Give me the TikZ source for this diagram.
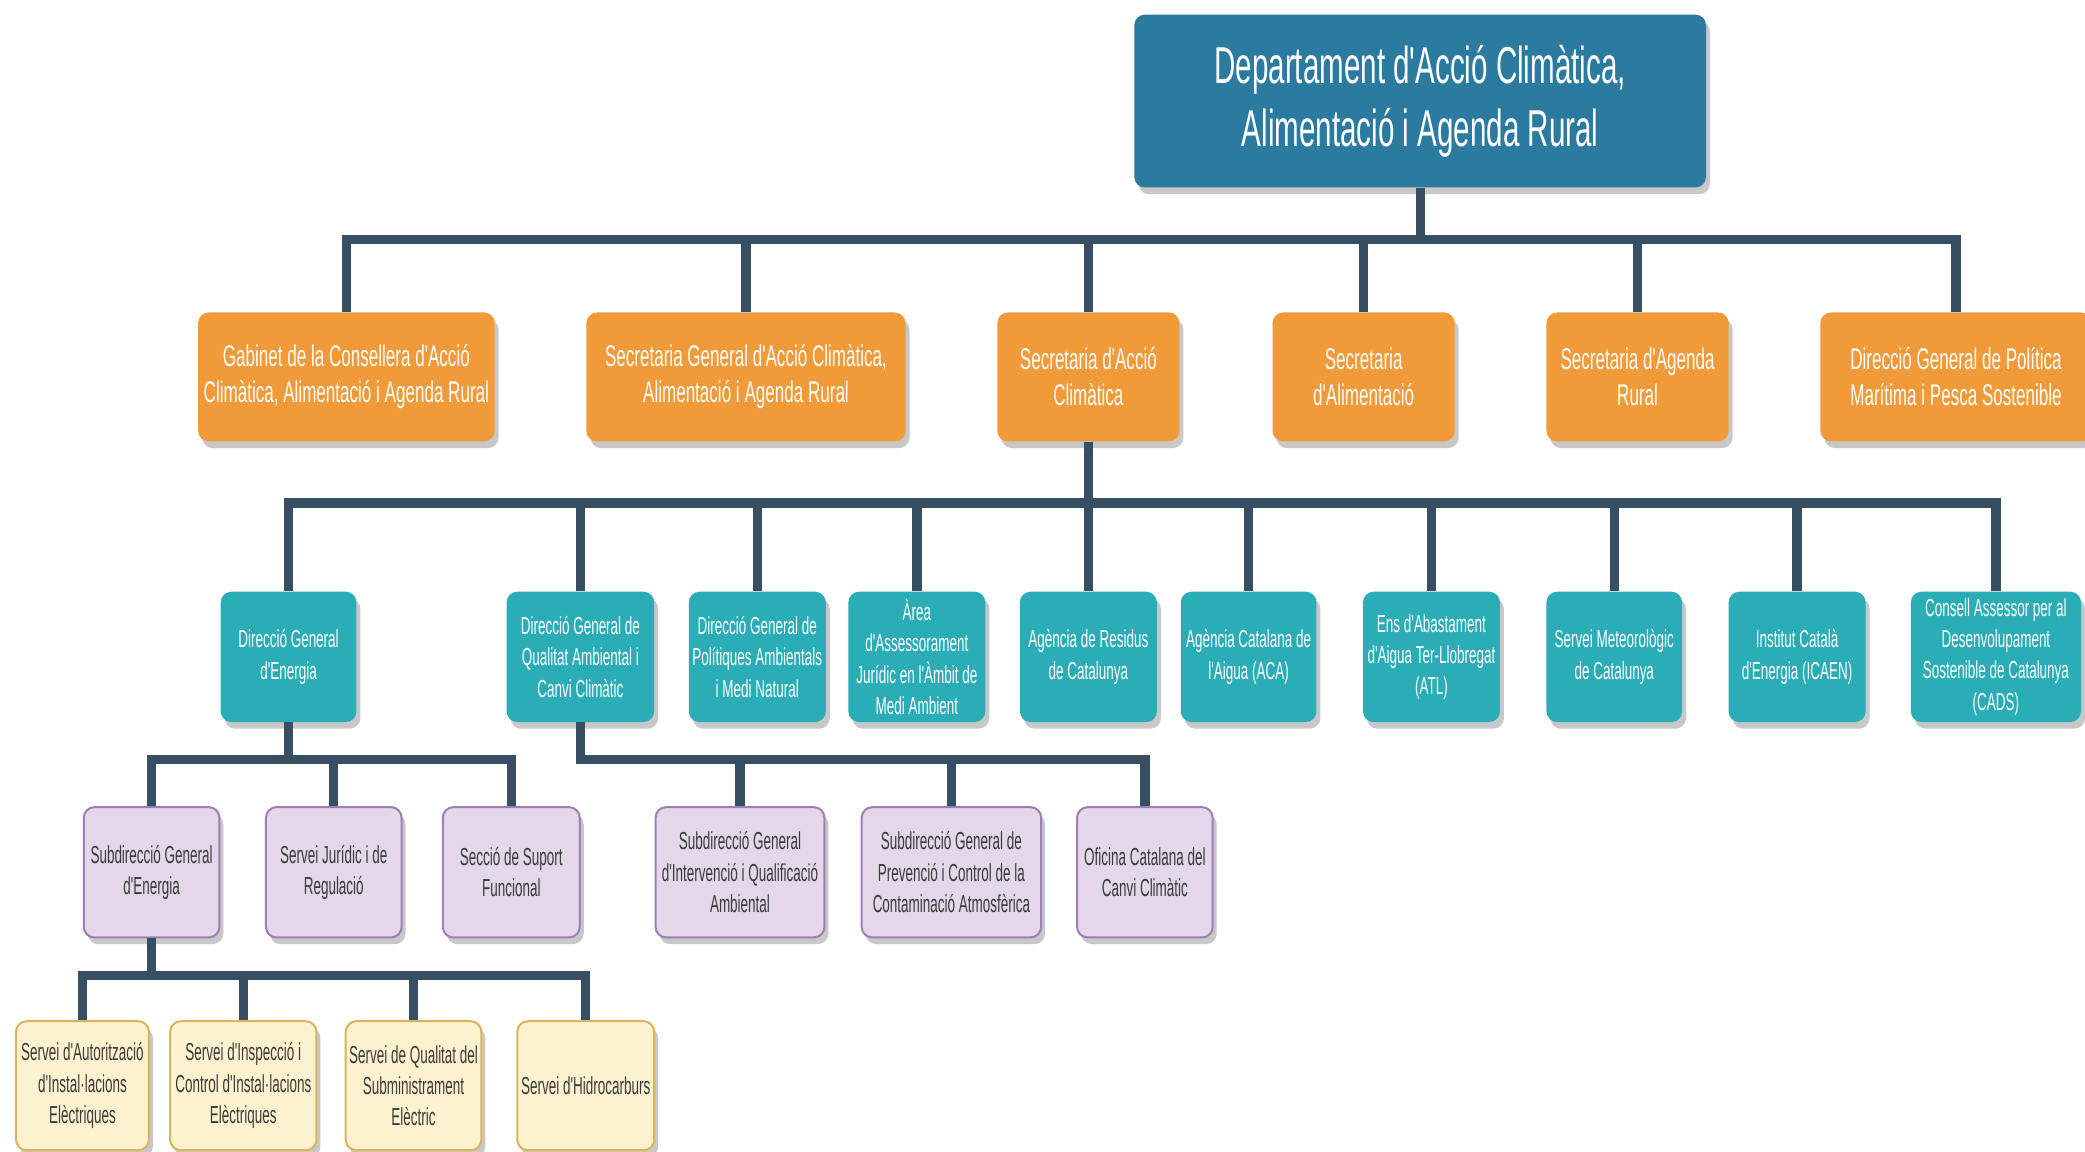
\documentclass[tikz,border=0pt]{standalone}
\usepackage{fontspec}
\setmainfont[FakeStretch=0.57, Ligatures=TeXOff]{Liberation Sans}
\newfontfamily\narrowfont[FakeStretch=0.548, Ligatures=TeXOff]{Liberation Sans}
\usetikzlibrary{shadows}
\definecolor{topblue}{HTML}{2B7AA0}
\definecolor{orgcol}{HTML}{F09A3A}
\definecolor{tealcol}{HTML}{2AADB7}
\definecolor{purfill}{HTML}{E3D7EA}
\definecolor{purline}{HTML}{A07DB4}
\definecolor{yelfill}{HTML}{FDF2D0}
\definecolor{yelline}{HTML}{DAB45A}
\definecolor{conncol}{HTML}{374E63}
\definecolor{shadowgrey}{HTML}{C8C8C8}
\definecolor{textgrey}{HTML}{3A3A3A}
\tikzset{
  box/.style={rounded corners=8pt, inner sep=0pt, align=center,
    drop shadow={shadow xshift=3pt, shadow yshift=-5pt, fill=shadowgrey, opacity=1}},
  topbox/.style={box, fill=topblue, text=white, font=\fontsize{39}{47}\selectfont},
  orgbox/.style={box, fill=orgcol, text=white, font=\fontsize{22.5}{27}\selectfont, minimum height=97pt},
  tealbox/.style={box, fill=tealcol, text=white, font=\narrowfont\fontsize{18.5}{23.5}\selectfont, minimum height=98pt},
  purbox/.style={box, fill=purfill, draw=purline, line width=1.5pt, text=textgrey, font=\narrowfont\fontsize{18.5}{23.5}\selectfont, minimum height=98pt},
  yelbox/.style={box, fill=yelfill, draw=yelline, line width=1.5pt, text=textgrey, font=\narrowfont\fontsize{18.5}{23.5}\selectfont, minimum height=97pt},
  conn/.style={draw=conncol, line width=7pt},
}
\begin{document}
\begin{tikzpicture}[x=1pt,y=-1pt]
\useasboundingbox[fill=white] (0,0) rectangle (1568,866);
% top
\node[topbox, minimum width=430pt, minimum height=130pt] (top) at (1068,76) {Departament d'Acció Climàtica,\\Alimentació i Agenda Rural};
% level 1
\node[orgbox, minimum width=223pt] (l1a) at (260.5,283.5) {Gabinet de la Consellera d'Acció\\Climàtica, Alimentació i Agenda Rural};
\node[orgbox, minimum width=240pt] (l1b) at (561,283.5) {Secretaria General d'Acció Climàtica,\\Alimentació i Agenda Rural};
\node[orgbox, minimum width=137pt] (l1c) at (818.5,283.5) {Secretaria d'Acció\\Climàtica};
\node[orgbox, minimum width=137pt] (l1d) at (1025.5,283.5) {Secretaria\\d'Alimentació};
\node[orgbox, minimum width=137pt] (l1e) at (1231.5,283.5) {Secretaria d'Agenda\\Rural};
\node[orgbox, minimum width=204pt] (l1f) at (1471,283.5) {Direcció General de Política\\Marítima i Pesca Sostenible};
% level 2
\node[tealbox, minimum width=102pt] (l2a) at (217,494) {Direcció General\\d'Energia};
\node[tealbox, minimum width=111pt] (l2b) at (436.5,494) {Direcció General de\\Qualitat Ambiental i\\Canvi Climàtic};
\node[tealbox, minimum width=103pt] (l2c) at (569.5,494) {Direcció General de\\Polítiques Ambientals\\i Medi Natural};
\node[tealbox, minimum width=103pt] (l2d) at (689.5,494) {Àrea\\d'Assessorament\\Jurídic en l'Àmbit de\\Medi Ambient};
\node[tealbox, minimum width=103pt] (l2e) at (818.5,494) {Agència de Residus\\de Catalunya};
\node[tealbox, minimum width=102pt] (l2f) at (939,494) {Agència Catalana de\\l'Aigua (ACA)};
\node[tealbox, minimum width=103pt] (l2g) at (1076.5,494) {Ens d'Abastament\\d'Aigua Ter-Llobregat\\(ATL)};
\node[tealbox, minimum width=102pt] (l2h) at (1214,494) {Servei Meteorològic\\de Catalunya};
\node[tealbox, minimum width=103pt] (l2i) at (1351.5,494) {Institut Català\\d'Energia (ICAEN)};
\node[tealbox, minimum width=128pt] (l2j) at (1501,494) {Consell Assessor per al\\Desenvolupament\\Sostenible de Catalunya\\(CADS)};
% level 3
\node[purbox, minimum width=102pt] (l3a) at (114,656) {Subdirecció General\\d'Energia};
\node[purbox, minimum width=102pt] (l3b) at (251,656) {Servei Jurídic i de\\Regulació};
\node[purbox, minimum width=103pt] (l3c) at (384.5,656) {Secció de Suport\\Funcional};
\node[purbox, minimum width=127pt] (l3d) at (556.5,656) {Subdirecció General\\d'Intervenció i Qualificació\\Ambiental};
\node[purbox, minimum width=135pt] (l3e) at (715.5,656) {Subdirecció General de\\Prevenció i Control de la\\Contaminació Atmosfèrica};
\node[purbox, minimum width=102pt] (l3f) at (861,656) {Oficina Catalana del\\Canvi Climàtic};
% level 4
\node[yelbox, minimum width=100pt] (l4a) at (62,816.5) {Servei d'Autorització\\d'Instal·lacions\\Elèctriques};
\node[yelbox, minimum width=110pt] (l4b) at (183,816.5) {Servei d'Inspecció i\\Control d'Instal·lacions\\Elèctriques};
\node[yelbox, minimum width=102pt] (l4c) at (311,816.5) {Servei de Qualitat del\\Subministrament\\Elèctric};
\node[yelbox, minimum width=103pt] (l4d) at (440.5,816.5) {Servei d'Hidrocarburs};
% connectors
\foreach \c in {l1a,l1b,l1c,l1d,l1e,l1f}
  \draw[conn] (top.south) -- ++(0,39) -| (\c.north);
\foreach \c in {l2a,l2b,l2c,l2d,l2e,l2f,l2g,l2h,l2i,l2j}
  \draw[conn] (l1c.south) -- ++(0,46) -| (\c.north);
\foreach \c in {l3a,l3b,l3c}
  \draw[conn] (l2a.south) -- ++(0,28) -| (\c.north);
\foreach \c in {l3d,l3e,l3f}
  \draw[conn] (l2b.south) -- ++(0,28) -| (\c.north);
\foreach \c in {l4a,l4b,l4c,l4d}
  \draw[conn] (l3a.south) -- ++(0,28) -| (\c.north);
\end{tikzpicture}
\end{document}
